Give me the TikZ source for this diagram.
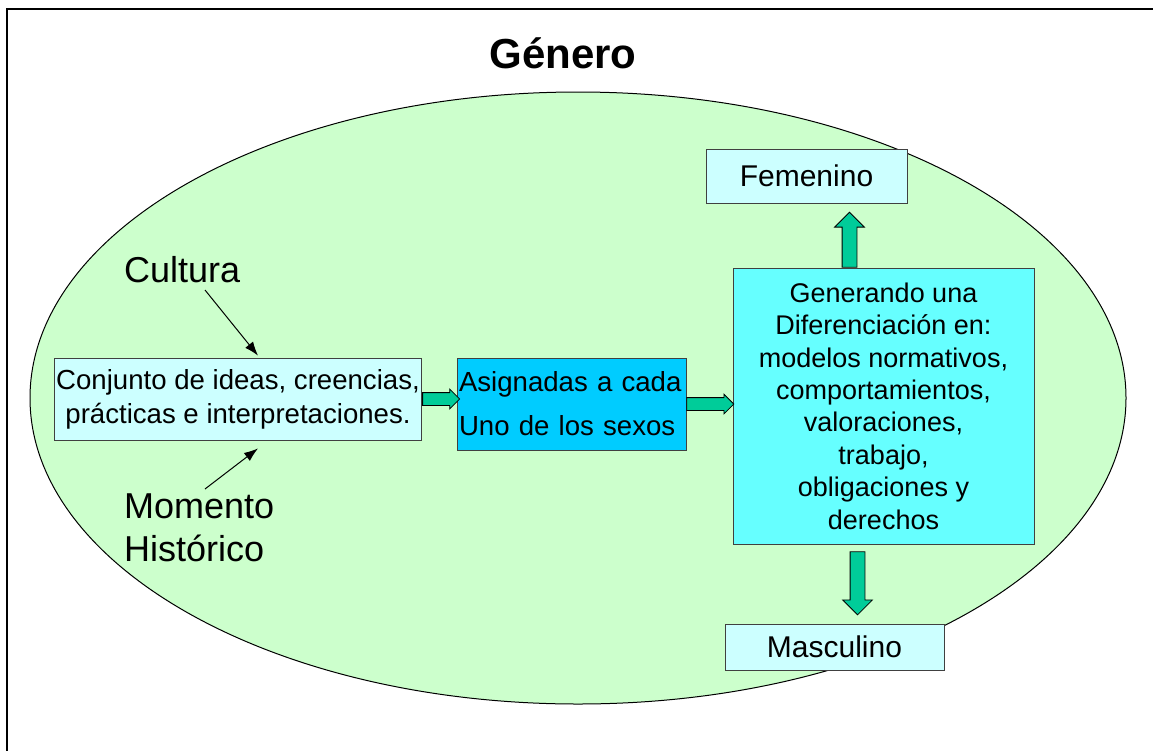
\documentclass[tikz,border=0pt]{standalone}
\usepackage{fontspec}
\setmainfont{Liberation Sans}
\usetikzlibrary{arrows.meta,calc,shapes.arrows}
\tikzset{>=latex}
\definecolor{lightgreen}{RGB}{204,255,204}
\definecolor{palecyan}{RGB}{204,255,255}
\definecolor{skyblue}{RGB}{0,204,255}
\definecolor{brightcyan}{RGB}{102,255,255}
\definecolor{arrowgreen}{RGB}{0,204,153}
\tikzset{
  box/.style={draw=black!75, line width=0.8pt, inner sep=2pt},
  blockarrow/.style={single arrow, draw=black, fill=arrowgreen, line width=0.8pt,
    single arrow head indent=0pt, minimum width=1pt, anchor=tail},
  thinarrow/.style={-{Latex[length=14pt,width=10pt]}, line width=1pt}
}
\newcommand{\boxfont}{\fontsize{27}{32.4}\selectfont}

\begin{document}
\begin{tikzpicture}[x=1pt,y=-1pt]
  \useasboundingbox (0,0) rectangle (1153,750);
  \fill[white] (0,0) rectangle (1153,750);
  % frame and ellipse
  \draw[line width=2.5pt] (7,760) -- (7,9) -- (1160,9);
  \draw[fill=lightgreen, line width=1pt] (578,398) ellipse [x radius=548pt, y radius=306pt];
  \node[font=\bfseries\fontsize{42}{50}\selectfont] (titulo) at (563,53) {Género};

  \node[font=\fontsize{36}{43}\selectfont, anchor=west, inner sep=0pt] (cultura) at (124,270) {Cultura};
  \node[font=\fontsize{36}{43}\selectfont, anchor=west, align=left, inner sep=0pt] (momento) at (124,528) {Momento\\Histórico};

  % boxes
  \node[box, fill=palecyan, minimum width=364pt, minimum height=82pt, align=center, font=\fontsize{27.6}{34}\selectfont] (conj) at (238,399)
    {Conjunto de ideas, creencias,\\prácticas e interpretaciones.};
  \node[box, fill=skyblue, text width=225pt, minimum height=92pt, align=left, font=\fontsize{27.6}{33}\selectfont] (asig) at (571.5,404)
    {Asignadas a cada\\[11pt]Uno de los sexos};
  \node[box, fill=brightcyan, minimum width=301pt, minimum height=276pt, align=center, font=\boxfont] (dif) at (883.5,406)
    {Generando una\\Diferenciación en:\\modelos normativos,\\comportamientos,\\valoraciones,\\trabajo,\\obligaciones y\\derechos};
  \node[box, fill=palecyan, minimum width=201pt, minimum height=54pt, font=\fontsize{30}{36}\selectfont] (fem) at (806.5,176) {Femenino};
  \node[box, fill=palecyan, minimum width=219pt, minimum height=46pt, font=\fontsize{30}{36}\selectfont] (masc) at (834.5,647) {Masculino};

  % block arrows
  \node[blockarrow, inner sep=6pt, single arrow head extend=3.5pt, minimum height=37pt] (flecha1) at (conj.east) {};
  \node[blockarrow, inner sep=6pt, single arrow head extend=3.5pt, minimum height=47pt] (flecha2) at (asig.east) {};
  \node[blockarrow, inner sep=7pt, single arrow head extend=7.5pt, minimum height=55pt, shape border rotate=90] (flecha3) at ($(dif.north)+(-34,0)$) {};
  \node[blockarrow, inner sep=7pt, single arrow head extend=7.5pt, minimum height=63pt, shape border rotate=270] (flecha4) at ($(dif.south)+(-26,7)$) {};

  % thin arrows
  \coordinate (cuDesde) at (205,290);
  \coordinate (moDesde) at (205,489);
  \draw[thinarrow] (cuDesde) -- ($(conj.north)+(20,-2)$);
  \draw[thinarrow] (moDesde) -- ($(conj.south)+(20,8)$);
\end{tikzpicture}
\end{document}
